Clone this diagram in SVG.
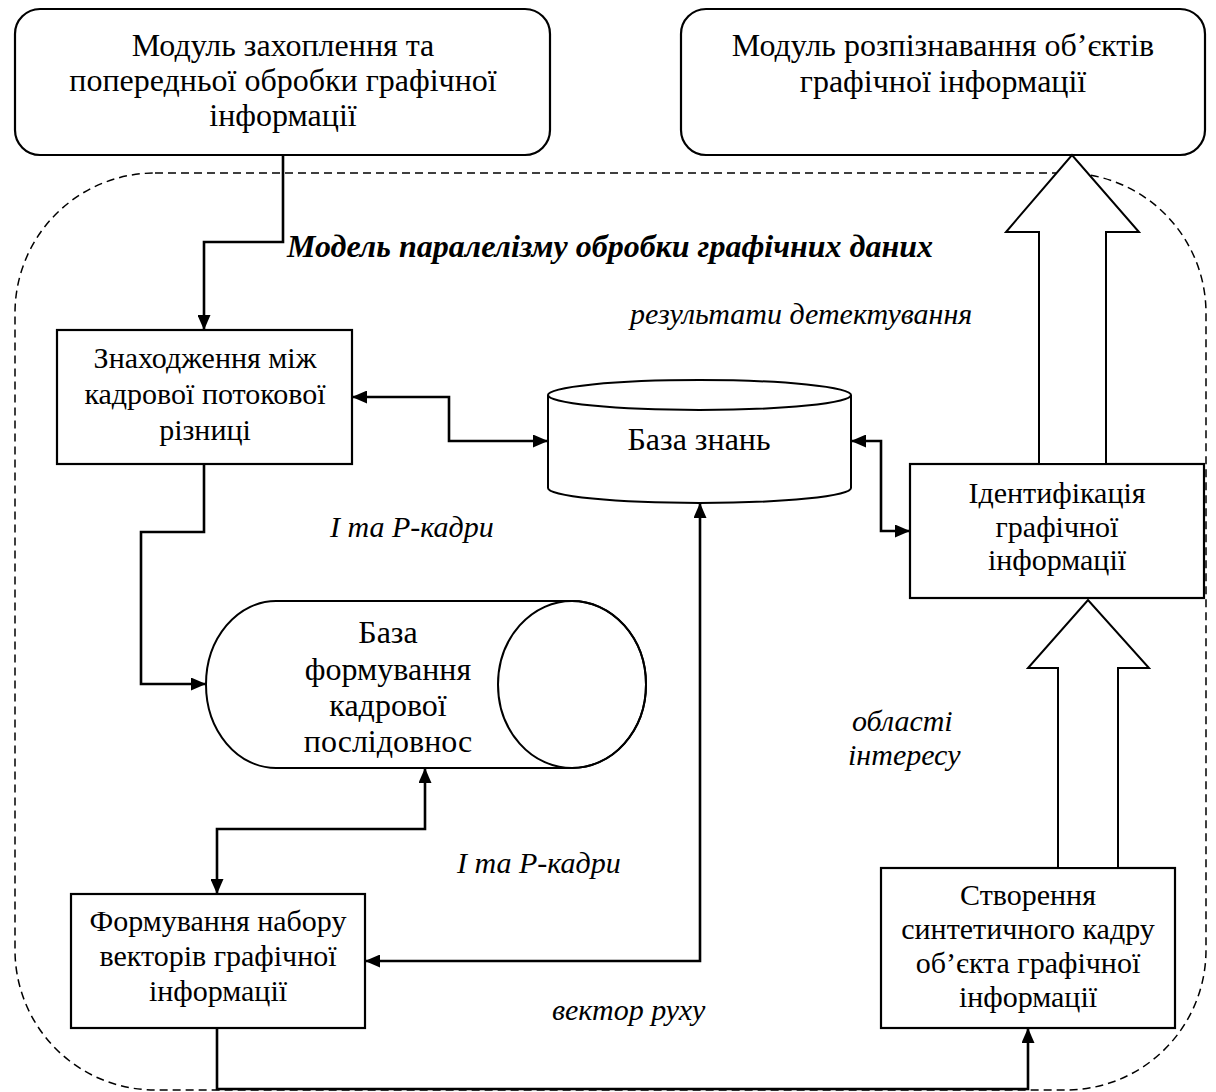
<svg xmlns="http://www.w3.org/2000/svg" width="1216" height="1092" viewBox="0 0 1216 1092">
<defs>
<style>
.box{fill:#fff;stroke:#000;stroke-width:2.2}
.shape{fill:#fff;stroke:#000;stroke-width:2}
.t{font-family:"Liberation Serif","Times New Roman",serif;font-size:32px;fill:#000;text-anchor:middle}
.tb{font-family:"Liberation Serif","Times New Roman",serif;font-size:30px;fill:#000;text-anchor:middle}
.lbl{font-family:"Liberation Serif","Times New Roman",serif;font-size:30px;font-style:italic;fill:#000}
.title{font-family:"Liberation Serif","Times New Roman",serif;font-size:32px;font-style:italic;font-weight:bold;fill:#000}
.conn{fill:none;stroke:#000;stroke-width:2.6}
.big{fill:#fff;stroke:#000;stroke-width:2}
</style>
<marker id="ah" viewBox="0 0 15 13" refX="15" refY="6.5" markerWidth="15" markerHeight="13" markerUnits="userSpaceOnUse" orient="auto-start-reverse">
<path d="M0,0 L15,6.5 L0,13 Z" fill="#000"/>
</marker>
</defs>
<rect width="1216" height="1092" fill="#fff"/>

<g id="boundary">
<rect x="15" y="173" width="1191" height="917" rx="140" ry="140" fill="none" stroke="#000" stroke-width="1.5" stroke-dasharray="8 5"/>
<text class="title" x="287" y="257">Модель паралелізму обробки графічних даних</text>
</g>

<g id="capture">
<rect class="box" x="15" y="9" width="535" height="146" rx="25"/>
<text class="t" x="283" y="56">Модуль захоплення та</text>
<text class="t" x="283" y="91">попередньої обробки графічної</text>
<text class="t" x="283" y="126">інформації</text>
</g>

<g id="recognition">
<rect class="box" x="681" y="9" width="524" height="146" rx="25"/>
<text class="t" x="943" y="56">Модуль розпізнавання об’єктів</text>
<text class="t" x="943" y="92">графічної інформації</text>
</g>

<g id="diff">
<rect class="box" x="57" y="330" width="295" height="134"/>
<text class="tb" x="205" y="368">Знаходження між</text>
<text class="tb" x="205" y="404">кадрової потокової</text>
<text class="tb" x="205" y="440">різниці</text>
</g>

<g id="kb">
<path class="shape" d="M548,395 A151.5,15 0 0 1 851,395 V488 A151.5,15 0 0 1 548,488 Z"/>
<path fill="none" stroke="#000" stroke-width="2" d="M548,395 A151.5,15 0 0 0 851,395"/>
<text class="t" x="699" y="450">База знань</text>
</g>

<g id="ident">
<rect class="box" x="910" y="464" width="294" height="134"/>
<text class="tb" x="1057" y="503">Ідентифікація</text>
<text class="tb" x="1057" y="537">графічної</text>
<text class="tb" x="1057" y="570">інформації</text>
</g>

<g id="seq">
<path class="shape" d="M276,601 H572 A74,83.5 0 0 1 572,768 H276 A70,83.5 0 0 1 276,601 Z"/>
<ellipse fill="none" stroke="#000" stroke-width="2" cx="572" cy="684.5" rx="74" ry="83.5"/>
<text class="t" x="388" y="643">База</text>
<text class="t" x="388" y="680">формування</text>
<text class="t" x="388" y="716">кадрової</text>
<text class="t" x="388" y="752">послідовнос</text>
</g>

<g id="vectors">
<rect class="box" x="71" y="894" width="294" height="134"/>
<text class="tb" x="218" y="931">Формування набору</text>
<text class="tb" x="218" y="966">векторів графічної</text>
<text class="tb" x="218" y="1001">інформації</text>
</g>

<g id="synth">
<rect class="box" x="881" y="868" width="294" height="160"/>
<text class="tb" x="1028" y="905">Створення</text>
<text class="tb" x="1028" y="939">синтетичного кадру</text>
<text class="tb" x="1028" y="973">об’єкта графічної</text>
<text class="tb" x="1028" y="1007">інформації</text>
</g>

<g id="connectors">
<path class="conn" d="M283,155 V242 H204 V330" marker-end="url(#ah)"/>
<path class="conn" d="M352,397 H449 V441 H548" marker-start="url(#ah)" marker-end="url(#ah)"/>
<path class="conn" d="M851,441 H881 V531 H910" marker-start="url(#ah)" marker-end="url(#ah)"/>
<path class="conn" d="M204,464 V532 H141 V684 H206" marker-end="url(#ah)"/>
<path class="conn" d="M425,768 V829 H217 V894" marker-start="url(#ah)" marker-end="url(#ah)"/>
<path class="conn" d="M365,961 H700 V503" marker-start="url(#ah)" marker-end="url(#ah)"/>
<path class="conn" d="M217,1028 V1089 H1028 V1028" marker-end="url(#ah)"/>
<polygon class="big" points="1039,464 1039,232 1006,232 1072,155 1139,232 1106,232 1106,464"/>
<polygon class="big" points="1058,868 1058,668 1028,668 1088,600 1149,668 1118,668 1118,868"/>
</g>

<g id="labels">
<text class="lbl" x="852" y="731">області</text>
<text class="lbl" x="848" y="765">інтересу</text>
<text class="lbl" x="630" y="324">результати детектування</text>
<text class="lbl" x="330" y="537">I та P-кадри</text>
<text class="lbl" x="457" y="873">I та P-кадри</text>
<text class="lbl" x="552" y="1020">вектор руху</text>
</g>
</svg>
